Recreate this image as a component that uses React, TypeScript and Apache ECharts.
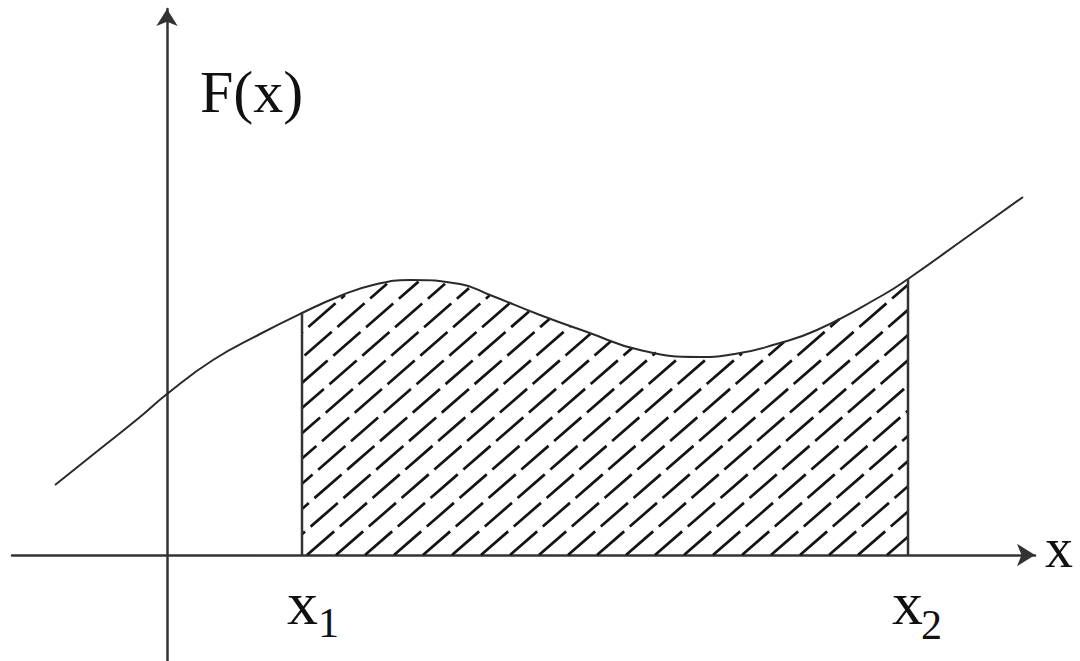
import React, { useEffect, useRef } from "react";
import * as echarts from "echarts";

// Curve F(x): [x, F(x)] pairs, origin at the axis crossing
const curveX = [-112, -67, -27, 0, 46, 93, 135, 173, 206, 243, 293, 323, 373, 420, 473, 533, 573, 606, 650, 716, 741, 800, 856];
const curveY = [70, 106, 138, 161, 195, 221, 242, 259, 270, 275, 271, 260, 240, 223, 205, 198, 202, 210, 225, 260, 276, 318, 358];

// Integration limits
const x1 = 135;
const x2 = 741;

const axisColor = "#333";
const serif = "Liberation Serif";

export default function App() {
  const ref = useRef<HTMLDivElement>(null);

  useEffect(() => {
    if (!ref.current) return;
    const chart = echarts.init(ref.current, null, { renderer: "svg" });

    const curve = curveX.map((x, i) => [x, curveY[i]]);
    const fx1 = curveY[curveX.indexOf(x1)];
    const fx2 = curveY[curveX.indexOf(x2)];

    // Hatching of the region under the curve between x1 and x2 (style: dashed diagonal lines)
    const renderHatch = (_params: any, api: any) => {
      const pts: number[][] = curve.map((p) => api.coord(p));
      const p1 = api.coord([x1, 0]);
      const X1 = p1[0];
      const Y0 = p1[1];
      const X2 = api.coord([x2, 0])[0];
      const curveAt = (px: number) => {
        if (px <= pts[0][0]) return pts[0][1];
        for (let i = 0; i < pts.length - 1; i++) {
          const a = pts[i];
          const b = pts[i + 1];
          if (px >= a[0] && px <= b[0]) {
            const f = (px - a[0]) / (b[0] - a[0] || 1);
            return a[1] + (b[1] - a[1]) * f;
          }
        }
        return pts[pts.length - 1][1];
      };
      const ang = (41 * Math.PI) / 180;
      const t = Math.tan(ang);
      const sn = Math.sin(ang);
      const H = 29; // horizontal spacing of hatch lines
      const L = 28.5 / sn; // dash period along a line
      const dash = [36, L - 36];
      let top = Y0;
      for (let i = 0; i < pts.length; i++) top = Math.min(top, pts[i][1]);
      const phase = 307;
      const cStart = X1 - (Y0 - top) / t;
      const kStart = Math.floor((cStart - phase) / H);
      const children: any[] = [];
      for (let c = phase + kStart * H; c < X2; c += H) {
        let sx: number;
        let sy: number;
        if (c >= X1) {
          sx = c;
          sy = Y0;
        } else {
          sx = X1;
          sy = Y0 - (X1 - c) * t;
          if (sy <= curveAt(X1) + 1) continue;
        }
        let ex = sx;
        let ey = sy;
        for (let n = 0; n < 4000; n++) {
          const nx = ex + 0.5;
          if (nx > X2) {
            ex = X2;
            ey = Y0 - (X2 - c) * t;
            break;
          }
          const ny = Y0 - (nx - c) * t;
          if (ny <= curveAt(nx) + 1) {
            ex = nx;
            ey = ny;
            break;
          }
          ex = nx;
          ey = ny;
        }
        if (ex - sx < 1) continue;
        const d = (Y0 - sy) / sn;
        children.push({
          type: "line",
          shape: { x1: sx, y1: sy, x2: ex, y2: ey },
          style: { stroke: "#141414", lineWidth: 2.7, lineDash: dash, lineDashOffset: d % L },
        });
      }
      return { type: "group", children };
    };

    const txt = (left: number, top: number, text: string, size: number) => ({
      type: "text",
      left,
      top,
      style: { text, fontSize: size, fontFamily: serif, fill: "#111" },
    });

    chart.setOption({
      animation: false,
      backgroundColor: "#fff",
      grid: { left: 12, right: 45, top: 9, bottom: 0 },
      xAxis: {
        type: "value",
        min: -155,
        max: 868,
        axisLine: {
          show: true,
          onZero: true,
          symbol: ["none", "arrow"],
          symbolSize: [17, 18],
          lineStyle: { color: axisColor, width: 2.5 },
        },
        axisTick: { show: false },
        axisLabel: { show: false },
        splitLine: { show: false },
      },
      yAxis: {
        type: "value",
        min: -106,
        max: 546,
        axisLine: {
          show: true,
          onZero: true,
          symbol: ["none", "arrow"],
          symbolSize: [16, 17],
          lineStyle: { color: axisColor, width: 2.5 },
        },
        axisTick: { show: false },
        axisLabel: { show: false },
        splitLine: { show: false },
      },
      series: [
        {
          type: "custom",
          coordinateSystem: "cartesian2d",
          data: [[x1, 0]],
          renderItem: renderHatch,
          silent: true,
          z: 1,
        },
        {
          type: "line",
          data: curve,
          smooth: true,
          symbol: "none",
          lineStyle: { color: "#2a2a2a", width: 2 },
          z: 3,
        },
        {
          type: "line",
          data: [[x1, 0], [x1, fx1]],
          symbol: "none",
          lineStyle: { color: axisColor, width: 2.5 },
          z: 3,
        },
        {
          type: "line",
          data: [[x2, 0], [x2, fx2]],
          symbol: "none",
          lineStyle: { color: axisColor, width: 2.5 },
          z: 3,
        },
      ],
      graphic: [
        txt(200, 62, "F(x)", 60),
        txt(1045, 520, "x", 56),
        txt(287, 572, "x", 62),
        txt(318, 602, "1", 42),
        txt(892, 572, "x", 62),
        txt(921, 604, "2", 42),
      ],
    });

    return () => chart.dispose();
  }, []);

  return (
    <div
      ref={ref}
      style={{ position: "fixed", left: 0, top: 0, width: 1080, height: 661, background: "#fff" }}
    />
  );
}
